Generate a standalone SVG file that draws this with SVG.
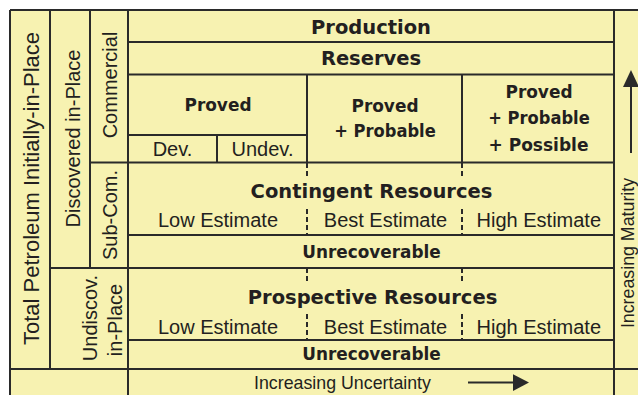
<svg xmlns="http://www.w3.org/2000/svg" width="638" height="395" viewBox="0 0 638 395">
<style>
.ln{stroke:#2a2a2a;stroke-width:2;fill:none}
.ds{stroke:#2a2a2a;stroke-width:2;fill:none;stroke-dasharray:5 3}
.t{font-family:"Liberation Sans",Arial,sans-serif;fill:#231f20;text-anchor:middle}
.b{font-family:"DejaVu Sans",Verdana,sans-serif;font-weight:bold;fill:#231f20;text-anchor:middle}
.h{font-size:19.5px}
.c{font-size:18.5px}
.r{font-size:20px}
.s{font-size:17.8px}
</style>
<rect x="0" y="0" width="638" height="395" fill="#ffffff"/>
<rect x="10" y="10" width="628" height="385" fill="#f7f2b1"/>
<g id="connectors">
<path class="ln" d="M10 10H638M10 10V395M50 10V369M90 10V268M128 10V395M614 10V395M10 369H638M50 268H614M90 162.5H614M128 42H614M128 74.5H614M128 135H307M217 135V162.5M307 74.5V162.5M462 74.5V162.5M128 235H614M128 340H614"/>
<path class="ds" d="M307 163V179M307 209V235M462 163V179M462 209V235M307 268V283M307 314V340M462 268V283M462 314V340"/>
<path class="ln" d="M631 87V153"/>
<polygon points="631,70 623,87 639,87" fill="#2a2a2a"/>
<path class="ln" d="M468 382.6H514"/>
<polygon points="529,382.6 513,374.3 513,391" fill="#2a2a2a"/>
</g>
<g id="total"><text class="t" font-size="22" transform="translate(38.5,188.5) rotate(-90)">Total Petroleum Initially-in-Place</text></g>
<g id="discovered"><text class="t r" transform="translate(80,138.5) rotate(-90)">Discovered in-Place</text></g>
<g id="commercial"><text class="t r" transform="translate(116.5,85) rotate(-90)">Commercial</text></g>
<g id="subcom"><text class="t r" transform="translate(116.5,215) rotate(-90)">Sub-Com.</text></g>
<g id="undiscovered"><text class="t r" transform="translate(96.5,318) rotate(-90)">Undiscov.</text><text class="t r" transform="translate(121.5,320) rotate(-90)">in-Place</text></g>
<g id="maturity"><text class="t s" transform="translate(634.3,253) rotate(-90)">Increasing Maturity</text></g>
<g id="production"><text class="b h" x="371" y="34">Production</text></g>
<g id="reserves"><text class="b h" x="371" y="65">Reserves</text></g>
<g id="proved"><text class="b c" x="218" y="110.5" textLength="67" lengthAdjust="spacingAndGlyphs">Proved</text></g>
<g id="dev"><text class="t r" x="172.5" y="155.5">Dev.</text></g>
<g id="undev"><text class="t r" x="262.5" y="155.5">Undev.</text></g>
<g id="probable"><text class="b c" x="385" y="111.5" textLength="67" lengthAdjust="spacingAndGlyphs">Proved</text><text class="b c" x="385" y="137" textLength="101.5" lengthAdjust="spacingAndGlyphs">+ Probable</text></g>
<g id="possible"><text class="b c" x="539" y="98.3" textLength="67" lengthAdjust="spacingAndGlyphs">Proved</text><text class="b c" x="539" y="124" textLength="101.5" lengthAdjust="spacingAndGlyphs">+ Probable</text><text class="b c" x="538.5" y="150.5" textLength="100" lengthAdjust="spacingAndGlyphs">+ Possible</text></g>
<g id="contingent"><text class="b h" x="371.5" y="197.5">Contingent Resources</text>
<text class="t r" x="218" y="227.3">Low Estimate</text><text class="t r" x="385.5" y="227.3">Best Estimate</text><text class="t r" x="538.8" y="227.3">High Estimate</text></g>
<g id="unrec1"><text class="b c" x="371.5" y="258" textLength="138.5" lengthAdjust="spacingAndGlyphs">Unrecoverable</text></g>
<g id="prospective"><text class="b h" x="372.5" y="304">Prospective Resources</text>
<text class="t r" x="218" y="334">Low Estimate</text><text class="t r" x="385.5" y="334">Best Estimate</text><text class="t r" x="538.8" y="334">High Estimate</text></g>
<g id="unrec2"><text class="b c" x="371.5" y="360" textLength="138.5" lengthAdjust="spacingAndGlyphs">Unrecoverable</text></g>
<g id="uncertainty"><text class="t s" x="342.5" y="389.3">Increasing Uncertainty</text></g>
</svg>
